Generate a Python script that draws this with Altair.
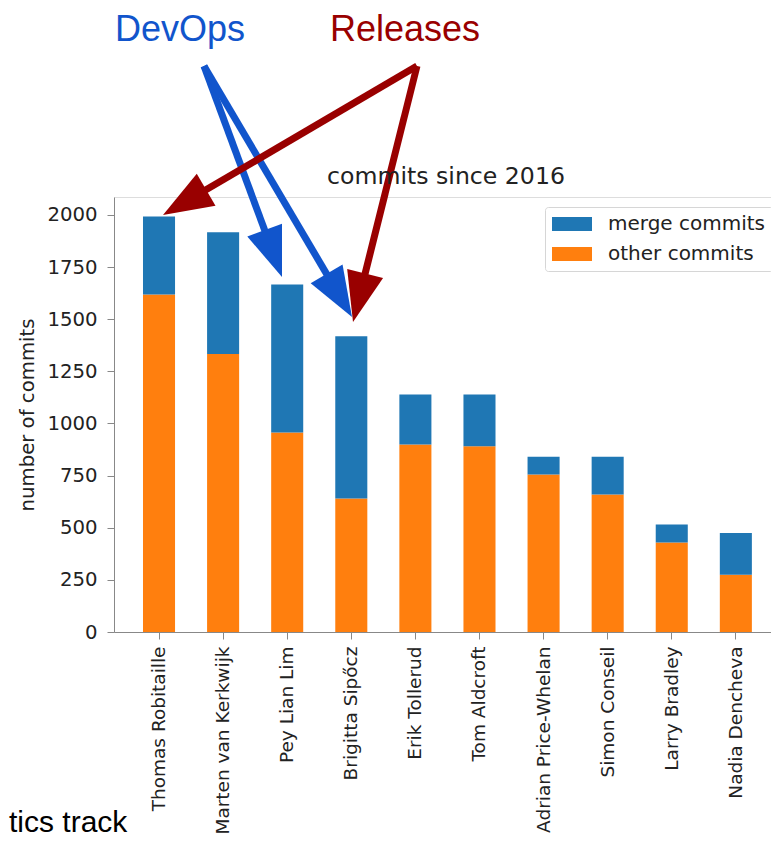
import math
import altair as alt
import pandas as pd

# ---------------- data ----------------
names = ["Thomas Robitaille", "Marten van Kerkwijk", "Pey Lian Lim", "Brigitta Sipőcz",
         "Erik Tollerud", "Tom Aldcroft", "Adrian Price-Whelan", "Simon Conseil",
         "Larry Bradley", "Nadia Dencheva"]
other_commits = [1618, 1333, 957, 640, 899, 891, 755, 659, 429, 275]
merge_commits = [375, 584, 710, 778, 240, 248, 85, 181, 86, 200]
series = ["merge commits", "other commits"]
series_colors = ["#1f77b4", "#ff7f0e"]
y_ticks = [0, 250, 500, 750, 1000, 1250, 1500, 1750, 2000]

# ---------------- layout ----------------
PAD_L, PAD_T, W, H = 106, 189, 664, 435
SVG_W, SVG_H = 763, 832            # keep the page inside the 779x852 window
PAD_R = SVG_W - PAD_L - W          # plot frame runs to the window edge (clipped)
PAD_B = SVG_H - PAD_T - H
OX, OY = 8 + PAD_L, 8 + PAD_T      # page position of plot origin
Y_MAX = 2086

FONT = "DejaVu Sans"
TXT = "#222222"
FRAME = "#3a3a3a"

def v(pt):
    """page pixel -> plot-area pixel"""
    return (pt[0] - OX, pt[1] - OY)

# annotation geometry (page pixels)
BLUE, RED = "#1155cc", "#990000"
arrow_specs = [
    (BLUE, (204, 66), (282, 277)),
    (BLUE, (204, 66), (352, 317)),
    (RED, (417, 66), (163, 215)),
    (RED, (417, 66), (353, 322)),
]
HEAD_LEN = 50

bar_rows = []
for i, n in enumerate(names):
    bar_rows.append({"name": n, "type": "other commits", "value": other_commits[i], "ord": 0})
    bar_rows.append({"name": n, "type": "merge commits", "value": merge_commits[i], "ord": 1})
bars_df = pd.DataFrame(bar_rows)

line_rows, head_rows = [], []
for col, s, t in arrow_specs:
    s, t = v(s), v(t)
    dx, dy = t[0] - s[0], t[1] - s[1]
    L = math.hypot(dx, dy)
    ux, uy = dx / L, dy / L
    ang = math.degrees(math.atan2(dx, -dy)) % 360
    line_rows.append({"x": s[0], "y": s[1],
                      "x2": t[0] - ux * HEAD_LEN * 0.7, "y2": t[1] - uy * HEAD_LEN * 0.7,
                      "c": col})
    head_rows.append({"x": t[0] - ux * HEAD_LEN / 2, "y": t[1] - uy * HEAD_LEN / 2,
                      "a": ang, "c": col})
lines_df = pd.DataFrame(line_rows)
heads_df = pd.DataFrame(head_rows)

lab = [v((115, 41)), v((330, 41))]
labels_df = pd.DataFrame({"t": ["DevOps", "Releases"], "x": [lab[0][0], lab[1][0]],
                          "y": [lab[0][1], lab[1][1]], "c": [BLUE, RED]})
title_df = pd.DataFrame({"t": ["commits since 2016"], "x": [W / 2], "y": [184 - OY]})
foot = v((9, 832))
foot_df = pd.DataFrame({"t": ["tics track"], "x": [foot[0]], "y": [foot[1]]})

# ---------------- chart ----------------
bars = alt.Chart(bars_df).mark_bar().encode(
    x=alt.X("name:N", sort=names, title=None,
            scale=alt.Scale(paddingInner=0.5, paddingOuter=0.43, align=0.526),
            axis=alt.Axis(labelAngle=270, labelAlign="right", labelBaseline="middle",
                          labelPadding=7, tickSize=7, labelFontSize=18.5,
                          labelFont=FONT, labelColor=TXT, labelLimit=400)),
    y=alt.Y("value:Q", stack="zero", scale=alt.Scale(domain=[0, Y_MAX], nice=False),
            axis=alt.Axis(values=y_ticks, format="d", title="number of commits", tickSize=7,
                          labelPadding=10, labelFontSize=19.7, labelFont=FONT,
                          labelColor=TXT, grid=False,
                          titleFontSize=19.7, titleFontWeight="normal", titleFont=FONT,
                          titleColor=TXT, titleAngle=270, titleX=-87, titleY=H / 2,
                          titleAlign="center", titleBaseline="middle")),
    color=alt.Color("type:N", scale=alt.Scale(domain=series, range=series_colors),
                    legend=alt.Legend(title=None, orient="none", legendX=431, legendY=10,
                                      symbolType="M-2,-0.7L2,-0.7L2,0.7L-2,0.7Z",
                                      symbolSize=400, symbolOffset=10, labelOffset=26,
                                      symbolStrokeWidth=0, symbolOpacity=1,
                                      padding=7, rowPadding=10, labelFontSize=20,
                                      labelFont=FONT, labelColor=TXT,
                                      fillColor="white", strokeColor="#d6d6d6",
                                      cornerRadius=3)),
    order=alt.Order("ord:Q"),
)

xs = alt.X("x:Q", scale=None, axis=None)
ys = alt.Y("y:Q", scale=None, axis=None)

arrow_lines = alt.Chart(lines_df).mark_rule(strokeWidth=7, strokeCap="butt").encode(
    x=xs, y=ys, x2="x2:Q", y2="y2:Q", color=alt.Color("c:N", scale=None, legend=None))

arrow_heads = alt.Chart(heads_df).mark_point(
    shape="M0,-1L0.74,1L-0.74,1Z", filled=True, opacity=1, size=HEAD_LEN ** 2,
    strokeWidth=0).encode(
    x=xs, y=ys, angle=alt.Angle("a:Q", scale=None),
    color=alt.Color("c:N", scale=None, legend=None))

ann_text = alt.Chart(labels_df).mark_text(
    font="Liberation Sans", fontSize=36, align="left", baseline="alphabetic").encode(
    x=xs, y=ys, text="t:N", color=alt.Color("c:N", scale=None, legend=None))

title_text = alt.Chart(title_df).mark_text(
    font=FONT, fontSize=23.6, align="center", baseline="alphabetic", color=TXT).encode(
    x=xs, y=ys, text="t:N")

foot_text = alt.Chart(foot_df).mark_text(
    font="Liberation Sans", fontSize=30, align="left", baseline="alphabetic",
    color="#000000").encode(x=xs, y=ys, text="t:N")

chart = alt.layer(bars, arrow_lines, arrow_heads, ann_text, title_text, foot_text).resolve_scale(
    x="independent", y="independent", color="independent"
).properties(
    width=W, height=H,
    autosize=alt.AutoSizeParams(type="none"),
    padding={"left": PAD_L, "top": PAD_T, "right": PAD_R, "bottom": PAD_B},
).configure_view(
    stroke=FRAME, strokeWidth=1.5
).configure_axis(
    labelFont=FONT, labelColor=TXT, domainColor=FRAME, domainWidth=1.5,
    tickColor=FRAME, tickWidth=1.3, grid=False
).configure(background="white")

chart.save("out.html", embed_options={"renderer": "svg", "actions": False})
